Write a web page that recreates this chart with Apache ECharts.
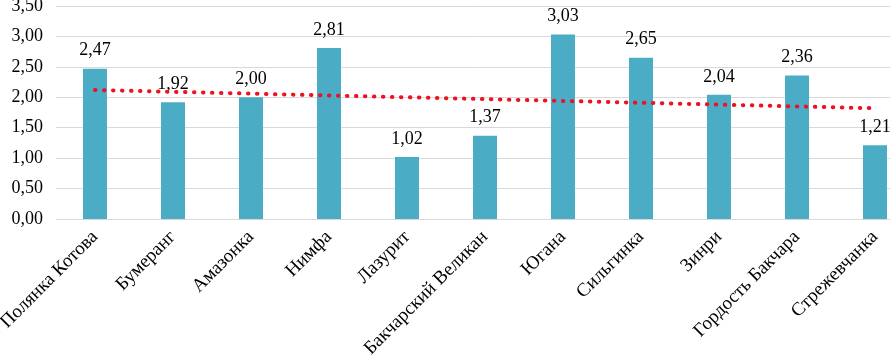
<!DOCTYPE html>
<html>
<head>
<meta charset="utf-8">
<script src="https://cdn.jsdelivr.net/npm/echarts@6/dist/echarts.min.js"></script>
<style>html,body{margin:0;padding:0;background:#fff;overflow:hidden;}</style>
</head>
<body>
<div id="main" style="width:890px;height:359px;"></div>
<script type="text/javascript">
    // сорта и значения
    var categories = ['Полянка Котова', 'Бумеранг', 'Амазонка', 'Нимфа', 'Лазурит', 'Бакчарский Великан',
        'Югана', 'Сильгинка', 'Зинри', 'Гордость Бакчара', 'Стрежевчанка'];
    var values = [2.47, 1.92, 2.00, 2.81, 1.02, 1.37, 3.03, 2.65, 2.04, 2.36, 1.21];
    // линия тренда (концы)
    var trendPoints = [[0, 2.12], [10, 1.82]];

    var font = '"Liberation Serif", "Times New Roman", serif';
    var fmt = function (v) { return Number(v).toFixed(2).replace('.', ','); };

    var myChart = echarts.init(document.getElementById('main'));
    var option = {
        animation: false,
        // последняя категория уходит за край, как в оригинале
        grid: { left: 56, width: 858, top: 6, height: 213, outerBoundsMode: 'none' },
        xAxis: {
            type: 'category',
            data: categories,
            axisLine: { lineStyle: { color: '#d9d9d9', width: 1 } },
            axisTick: { show: false },
            axisLabel: {
                rotate: 45, interval: 0, margin: 15,
                fontFamily: font, fontSize: 19, color: '#000'
            }
        },
        yAxis: {
            type: 'value',
            min: 0, max: 3.5, interval: 0.5,
            axisLine: { show: false },
            axisTick: { show: false },
            splitLine: { lineStyle: { color: '#d9d9d9', width: 1 } },
            axisLabel: {
                margin: 13, fontFamily: font, fontSize: 18, color: '#000',
                formatter: fmt
            }
        },
        series: [
            {
                type: 'bar',
                data: values,
                barWidth: 24,
                itemStyle: { color: '#4bacc6' },
                label: {
                    show: true, position: 'top', distance: 9,
                    fontFamily: font, fontSize: 18, color: '#000',
                    formatter: function (p) { return fmt(p.value); }
                }
            },
            {
                type: 'line',
                data: trendPoints,
                symbol: 'none',
                z: 5,
                lineStyle: { color: '#ee1122', width: 4, type: [0.5, 8.5], cap: 'round' }
            }
        ]
    };
    myChart.setOption(option);
</script>
</body>
</html>
